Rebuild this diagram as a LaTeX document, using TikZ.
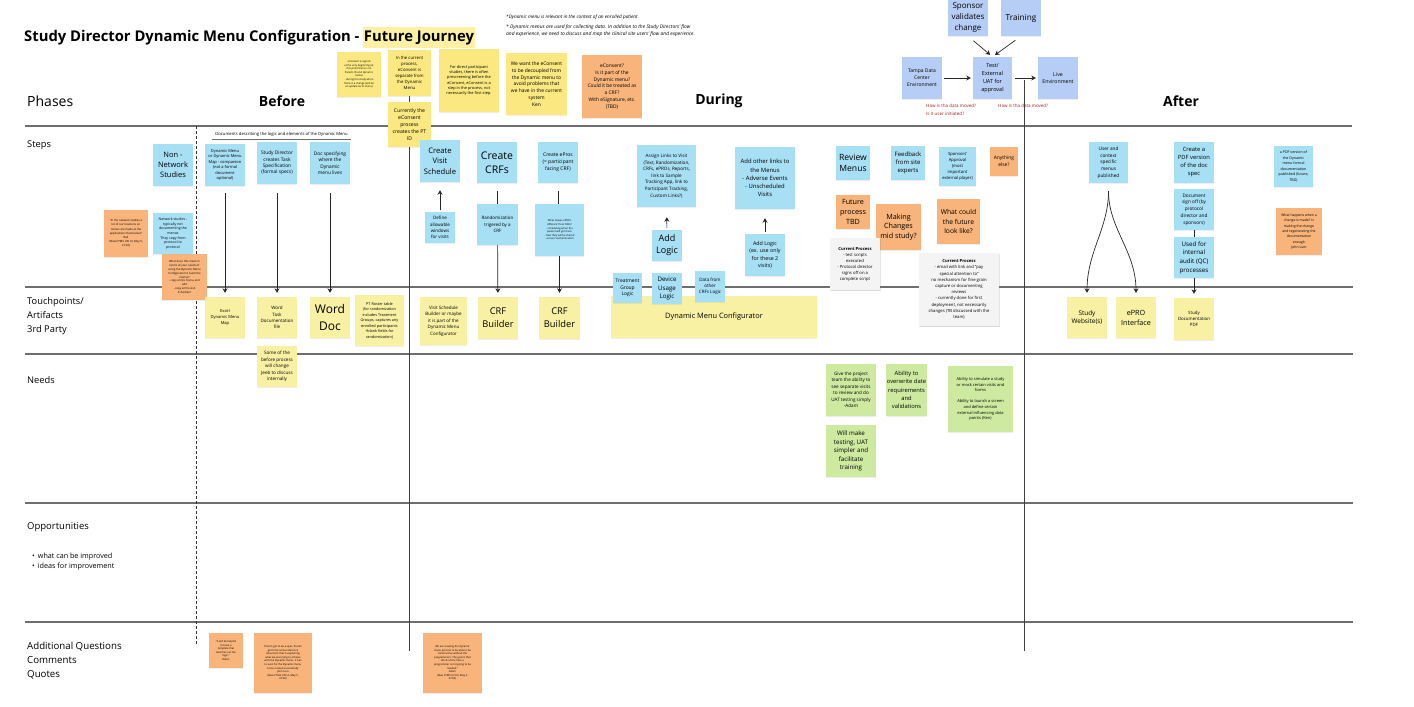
\documentclass[tikz,border=0pt]{standalone}
\usepackage{fontspec}
\setmainfont{Open Sans}
\usetikzlibrary{arrows.meta,shadows}
\definecolor{skyc}{RGB}{167,223,245}
\definecolor{peric}{RGB}{182,205,245}
\definecolor{yelc}{RGB}{251,232,128}
\definecolor{yelpc}{RGB}{248,241,163}
\definecolor{orgc}{RGB}{248,180,122}
\definecolor{grnc}{RGB}{205,234,160}
\definecolor{gryc}{RGB}{244,244,244}
\definecolor{rulec}{RGB}{110,110,110}
\definecolor{redt}{RGB}{165,30,30}
\definecolor{hlc}{RGB}{252,240,165}
\newcommand{\fz}[2]{\fontsize{#1}{#2}\selectfont}
\newcommand{\Note}[8]{\node[note,#2,font={#7},minimum width={(#5-#3)*1pt},minimum height={(#6-#4)*1pt}] (#1) at ({(#3+#5)/2},{(#4+#6)/2}) {#8};}
\tikzset{
 note/.style={align=center, inner sep=0.6pt, drop shadow={shadow xshift=0.3pt,shadow yshift=-0.9pt,opacity=0.13}},
 stBlue/.style={fill=skyc}, stPeri/.style={fill=peric}, stYel/.style={fill=yelc},
 stYelP/.style={fill=yelpc}, stOrg/.style={fill=orgc}, stGreen/.style={fill=grnc},
 stGray/.style={fill=gryc, drop shadow={shadow xshift=0.5pt,shadow yshift=-1.2pt,opacity=0.2}},
 rowrule/.style={draw=rulec, line width=1.2pt},
 arr/.style={-{Stealth[length=4.5pt,width=5pt]}, line width=0.7pt, black!85},
 conn/.style={line width=0.7pt, black!85},
 lab/.style={anchor=west, inner sep=0pt, align=left},
}
\begin{document}
\begin{tikzpicture}[x=1pt,y=-1pt]
\fill[white] (0,0) rectangle (1414,707);
\useasboundingbox (0,0) rectangle (1414,707);

% title
\node[anchor=base west, inner sep=0pt, font=\bfseries\fz{14.8}{17}] (title) at (24,41) {Study Director Dynamic Menu Configuration -};
\node[anchor=base west, inner xsep=1pt, inner ysep=3pt, fill=hlc, font=\bfseries\fz{14.8}{17}] (fj) at ([xshift=3pt]title.base east) {Future Journey};
\node[anchor=west, inner sep=0pt, font=\itshape\fz{4.7}{7}] (topn1) at (506,17) {*Dynamic menu is relevant in the context of an enrolled patient};
\node[anchor=north west, inner sep=0pt, align=left, font=\itshape\fz{4.9}{7}] (topn2) at (506,25) {* Dynamic menus are used for collecting data. In addition to the Study Directors' flow\\and experience, we need to discuss and map the clinical site users' flow and experience.};

% phases
\node[lab, font=\fz{14}{16}] (phases) at (27,101) {Phases};
\node[inner sep=0pt, font=\bfseries\fz{14}{16}] (before) at (282,101) {Before};
\node[inner sep=0pt, font=\bfseries\fz{14}{16}] (during) at (719,101) {During};
\node[inner sep=0pt, font=\bfseries\fz{14}{16}] (after) at (1181,101) {After};

% row labels
\node[lab, font=\fz{9.3}{14}] (steps) at (27,145) {Steps};
\node[lab, font=\fz{9.3}{14}] (touch) at (27,316) {Touchpoints/\\Artifacts\\3rd Party};
\node[lab, font=\fz{9.3}{14}] (needs) at (27,380) {Needs};
\node[lab, font=\fz{9.5}{14}] (opp) at (27,527) {Opportunities};
\node[lab, font=\fz{7.2}{10.7}] (bul) at (32,561.7) {\textbullet\hspace{3pt}what can be improved\\\textbullet\hspace{3pt}ideas for improvement};
\node[lab, font=\fz{9.7}{14}] (addq) at (27,660.7) {Additional Questions\\Comments\\Quotes};

% row rules
\draw[rowrule] (25,126) -- (1352,126);
\draw[rowrule] (25,287) -- (1353,287);
\draw[rowrule] (25,354) -- (1353,354);
\draw[rowrule] (25,503) -- (1353,503);
\draw[rowrule] (25,622) -- (1353,622);
\draw[black!80, line width=0.9pt, dash pattern=on 2.5pt off 2.5pt] (196.5,126) -- (196.5,646);

% phase dividers
\coordinate (vtop) at (1024,80);
\coordinate (vbot) at (1024,651);
\coordinate (ebot) at (409.5,651);
\draw[conn, black!75] (vtop) -- (vbot);

% top notes
\Note{nsigned}{stYel}{337}{52}{381}{97}{\fz{2.6}{3.6}}{eConsent is signed\\at the very beginning (at\\this point there is no\\Patient ID and dynamic\\menu)\\- during the study when\\there is a change (will be\\an update term menu)}
\Note{ncurr}{stYel}{388}{50}{431}{96}{\fz{4.3}{6}}{In the current\\process,\\eConsent is\\separate from\\the Dynamic\\Menu}
\Note{ncreates}{stYel}{388}{102}{431}{147}{\fz{5.1}{7}}{Currently the\\eConsent\\process\\creates the PT\\ID}
\draw[conn, black!75] (ncurr) -- (ncreates);
\draw[conn, black!75] (ncreates.south) -- (ebot);
\Note{ndirect}{stYel}{439}{49}{499}{112}{\fz{3.9}{5.3}}{For direct participant\\studies, there is often\\prescreening before the\\eConsent, eConsent is a\\step in the process, not\\necessarily the first step.}
\Note{ndecouple}{stYel}{506}{53}{567}{115}{\fz{4.9}{6.8}}{We want the eConsent\\to be decoupled from\\the Dynamic menu to\\avoid problems that\\we have in the current\\system\\Ken}
\Note{necrf}{stOrg}{582}{55}{642}{118}{\fz{4.9}{6.8}}{eConsent?\\Is it part of the\\Dynamic menu?\\Could it be treated as\\a CRF?\\With eSignature, etc.\\(TBD)}

% top right environment flow
\Note{sponsor}{stPeri}{948}{0}{988}{36}{\fz{8}{11}}{Sponsor\\validates\\change}
\Note{training}{stPeri}{1001}{0}{1041}{36}{\fz{8.2}{11}}{Training}
\Note{tampa}{stPeri}{902}{57}{942}{99}{\fz{5}{6.8}}{Tampa Data\\Center\\Environment}
\Note{test}{stPeri}{973}{57}{1012}{99}{\fz{5.5}{7.8}}{Test/\\External\\UAT for\\approval}
\Note{live}{stPeri}{1038}{57}{1078}{99}{\fz{5.2}{6.8}}{Live\\Environment}
\draw[arr, shorten <=1.5pt, shorten >=2pt] (tampa) -- (test);
\draw[arr, shorten <=3pt, shorten >=2pt] (test) -- (live);
\draw[arr, shorten <=7pt, shorten >=3pt] (sponsor.south) -- (test.north);
\draw[arr, shorten <=7pt, shorten >=3pt] (training.south) -- (test.north);
\node[anchor=north west, inner sep=0pt, align=left, text=redt, font=\fz{4.5}{8}] (q1) at (926,104) {How is tha data moved?\\Is it user initiated?};
\node[anchor=north west, inner sep=0pt, align=left, text=redt, font=\fz{4.5}{8}] (q2) at (998,104) {How is tha data moved?};

% steps - before
\Note{snon}{stBlue}{153}{144}{193}{186}{\fz{7.5}{10}}{Non -\\Network\\Studies}
\Note{snet}{stBlue}{153}{213}{193}{254}{\fz{3.5}{4.7}}{Network studies -\\typically not\\documenting the\\menus\\They copy from\\protocol to\\protocol}
\Note{snetq}{stOrg}{104}{210}{148}{257}{\fz{2.8}{4.2}}{``In the network studies a\\lot of our locations on\\menus are made at the\\applications themselves''\\Bali\\(New CTMS UXI UI, May 5,\\21:20)}
\Note{swhat}{stOrg}{162}{254}{207}{300}{\fz{2.8}{3.9}}{What does this mean in\\terms of your needs of\\using the Dynamic Menu\\Configurator to build the\\menus?\\- copy entire menu, and\\edit\\- copy entire visit\\Schedule?}
\node[inner xsep=0pt, inner ysep=2.3pt, minimum width=139pt, font=\fz{4.2}{5}] (docs) at (281.5,134.5) {Documents describing the logic and elements of the Dynamic Menu};
\draw[draw=rulec, line width=0.8pt] (docs.south west) -- (docs.south east);
\Note{sdmm}{stBlue}{205}{144}{245}{186}{\fz{4}{5.5}}{Dynamic Menu\\or Dynamic Menu\\Map - companion\\(not a formal\\document\\optional)}
\Note{stask}{stBlue}{257}{142}{297}{184}{\fz{4.8}{6.5}}{Study Director\\creates Task\\Specification\\(formal specs)}
\Note{swhere}{stBlue}{310}{142}{350}{184}{\fz{4.8}{6.5}}{Doc specifying\\where the\\Dynamic\\menu lives}

% touchpoints - before
\Note{texcel}{stYelP}{205}{297}{245}{338}{\fz{4.1}{5.7}}{Excel\\Dynamic Menu\\Map}
\Note{tword}{stYelP}{257}{297}{297}{338}{\fz{4.5}{6.3}}{Word\\Task\\Documentation\\file}
\Note{tworddoc}{stYelP}{310}{297}{350}{338}{\fz{12}{17}}{Word\\Doc}
\Note{troster}{stYelP}{355}{295}{404}{346}{\fz{3.8}{5.5}}{PT Roster table\\(for randomization\\includes Treatment\\Groups, captures any\\enrolled participants\\+blank fields for\\randomization)}
\Note{tsome}{stYelP}{257}{346}{297}{387}{\fz{4.6}{6.4}}{Some of the\\before process\\will change\\Jeeb to discuss\\internally}
\draw[arr, shorten <=7pt, shorten >=4pt] (sdmm) -- (texcel);
\draw[arr, shorten <=9pt, shorten >=4pt] (stask) -- (tword);
\draw[arr, shorten <=9pt, shorten >=4pt] (swhere) -- (tworddoc);

% steps - during
\Note{dcvs}{stBlue}{420}{140}{460}{182}{\fz{7.6}{10.5}}{Create\\Visit\\Schedule}
\Note{ddef}{stBlue}{425}{212}{455}{243}{\fz{4.5}{6.3}}{Define\\allowable\\windows\\for visits}
\Note{dcrf}{stBlue}{477}{142}{517}{183}{\fz{10.5}{14.3}}{Create\\CRFs}
\Note{drand}{stBlue}{477}{204}{518}{245}{\fz{4.5}{6.3}}{Randomization\\trigered by a\\CRF}
\Note{dep}{stBlue}{538}{142}{578}{183}{\fz{5}{7}}{Create ePros\\(= participant\\facing CRF)}
\Note{depw}{stBlue}{535}{204}{584}{256}{\fz{2.6}{3.6}}{What makes ePROs\\different from CRFs?\\- scheduling when the\\patient will get them\\- how they will be shared\\- access/ authentication}
\Note{dassign}{stBlue}{637}{145}{696}{207}{\fz{4.6}{6.6}}{Assign Links to Visit\\(Text, Randomization,\\CRFs, ePROs, Reports,\\link to Sample\\Tracking App, link to\\Participant Tracking,\\Custom Links?)}
\Note{daddlogic}{stBlue}{652}{230}{682}{261}{\fz{9}{12}}{Add\\Logic}
\Note{dother}{stBlue}{735}{147}{795}{209}{\fz{5.9}{8.2}}{Add other links to\\the Menus\\- Adverse Events\\- Unscheduled\\Visits}
\Note{daddlogic2}{stBlue}{745}{234}{785}{276}{\fz{5.3}{7.4}}{Add Logic\\(ex. use only\\for these 2\\visits)}

% touchpoints - during
\Note{tvsb}{stYelP}{420}{297}{467}{345}{\fz{4.5}{6.5}}{Visit Schedule\\Builder or maybe\\it is part of the\\Dynamic Menu\\Configurator}
\Note{tcrfb1}{stYelP}{478}{297}{518}{339}{\fz{9.3}{12.7}}{CRF\\Builder}
\Note{tcrfb2}{stYelP}{539}{297}{580}{339}{\fz{9.3}{12.7}}{CRF\\Builder}
\Note{tdmc}{stYelP}{611}{296}{817}{338}{\fz{7.4}{9}}{Dynamic Menu Configurator}
\Note{dtreat}{stBlue}{613}{273}{642}{303}{\fz{4.9}{6.8}}{Treatment\\Group\\Logic}
\Note{ddevice}{stBlue}{652}{273}{682}{304}{\fz{6.2}{8.2}}{Device\\Usage\\Logic}
\Note{ddata}{stBlue}{695}{271}{725}{302}{\fz{4.5}{6.3}}{Data from\\other\\CRFs Logic}

\draw[arr, shorten <=2pt, shorten >=8pt] (ddef) -- (dcvs);
\draw[conn, shorten <=8pt] (dcrf.south) -- (dcrf.south |- drand.north);
\draw[arr, shorten >=4pt] (drand) -- (tcrfb1);
\draw[conn, shorten <=8pt] (dep.south) -- (dep.south |- depw.north);
\draw[arr, shorten >=4pt] (depw.south) -- (tcrfb2.north);
\draw[arr, shorten <=2pt, shorten >=10pt] (daddlogic) -- (dassign);
\draw[arr, shorten <=2pt, shorten >=9pt] (daddlogic2) -- (dother);

% review column
\Note{rreview}{stBlue}{836}{146}{870}{180}{\fz{8.6}{11.7}}{Review\\Menus}
\Note{rfeed}{stBlue}{891}{146}{925}{180}{\fz{6}{8.3}}{Feedback\\from site\\experts}
\Note{rspons}{stBlue}{939}{147}{976}{186}{\fz{4.2}{6}}{Sponsors'\\Approval\\(most\\important\\external player)}
\Note{rany}{stOrg}{990}{147}{1018}{176}{\fz{4.9}{6.7}}{Anything\\else?}
\Note{rfut}{stOrg}{836}{195}{870}{229}{\fz{7.2}{9.8}}{Future\\process\\TBD}
\Note{rmake}{stOrg}{876}{204}{921}{250}{\fz{7.2}{9.8}}{Making\\Changes\\mid study?}
\Note{rwhat}{stOrg}{937}{199}{980}{244}{\fz{6.7}{9.2}}{What could\\the future\\look like?}
\Note{rcp1}{stGray}{830}{238}{880}{290}{\fz{4.2}{6}}{\textbf{Current Process}\\- test scripts\\executed\\- Protocol director\\signs off on a\\complete script}
\Note{rcp2}{stGray}{919}{253}{999}{326}{\fz{4.2}{6.2}}{\textbf{Current Process}\\- email with link and ``pay\\special attention to''\\no mechanism for fine grain\\capture or documenting\\reviews\\- currently done for first\\deployment, not necessarily\\changes (TB discussed with the\\team)}

% needs
\Note{ngive}{stGreen}{826}{364}{876}{416}{\fz{4.6}{6.5}}{Give the project\\team the ability to\\see separate visits\\to review and do\\UAT testing simply\\-Adam}
\Note{nover}{stGreen}{888}{364}{925}{416}{\fz{5.8}{8.3}}{Ability to\\overwrite date\\requirements\\and\\validations}
\Note{nsim}{stGreen}{948}{366}{1013}{432}{\fz{4}{5.6}}{Ability to simulate a study\\or mock certain visits and\\forms\\[5.6pt]Ability to launch a screen\\and define certain\\external influencing data\\points (Ken)}
\Note{nwill}{stGreen}{826}{425}{876}{477}{\fz{6.2}{8.5}}{Will make\\testing, UAT\\simpler and\\facilitate\\training}

% after
\Note{auser}{stBlue}{1089}{142}{1128}{183}{\fz{4.7}{6.7}}{User and\\context\\specific\\menus\\published}
\Note{apdf}{stBlue}{1174}{142}{1214}{183}{\fz{5.8}{8}}{Create a\\PDF version\\of the doc\\spec}
\Note{asign}{stBlue}{1174}{189}{1214}{230}{\fz{4.7}{6.7}}{Document\\sign off (by\\protocol\\director and\\sponsors)}
\Note{aused}{stBlue}{1174}{237}{1214}{278}{\fz{6.2}{8.7}}{Used for\\internal\\audit (QC)\\processes}
\Note{apdfv}{stBlue}{1274}{146}{1313}{187}{\fz{3.6}{5.5}}{a PDF version of\\the Dynamic\\menu formal\\documentation\\published (future,\\TBD)}
\Note{ahappen}{stOrg}{1276}{208}{1322}{255}{\fz{3.4}{5.3}}{What happens when a\\change is made? Is\\making the change\\and regenerating the\\documentation\\enough\\John Lum}
\Note{aweb}{stYelP}{1067}{297}{1107}{338}{\fz{6.4}{8.7}}{Study\\Website(s)}
\Note{aepro}{stYelP}{1116}{297}{1156}{338}{\fz{7.2}{10}}{ePRO\\Interface}
\Note{asdpdf}{stYelP}{1174}{298}{1214}{340}{\fz{4.4}{6.3}}{Study\\Documentation\\PDF}
\draw[arr, shorten <=8pt, shorten >=4pt] (auser.south) to[out=-90,in=90] (aweb.north);
\draw[arr, shorten <=8pt, shorten >=4pt] (auser.south) to[out=-90,in=90] (aepro.north);
\draw[conn] (asign) -- (aused);
\draw[arr, shorten >=4pt] (aused) -- (asdpdf);

% quotes
\Note{qrobin}{stOrg}{209}{633}{243}{668}{\fz{2.6}{3.6}}{``It will be helpful\\to have a\\template that\\sketches out the\\logic.''\\Robin}
\Note{qjohn}{stOrg}{254}{633}{312}{693}{\fz{2.6}{3.6}}{There's got to be a spec, there's\\got to be some reference\\document that is explaining\\what we are trying to achieve\\with the Dynamic menu. It has\\to exist for the Dynamic menu\\to be created successfully\\John Lum\\(New CTMS UXI UI, May 5,\\07:00)}
\Note{qadam}{stOrg}{423}{633}{482}{693}{\fz{2.6}{3.6}}{We are creating the dynamic\\menu process to be able to be\\constructive without the\\programmers. The goal is that\\90+\% of the time a\\programmer is not going to be\\needed.''\\Adam\\(New CTMS UXI UI, May 5,\\07:00)}
\end{tikzpicture}
\end{document}
